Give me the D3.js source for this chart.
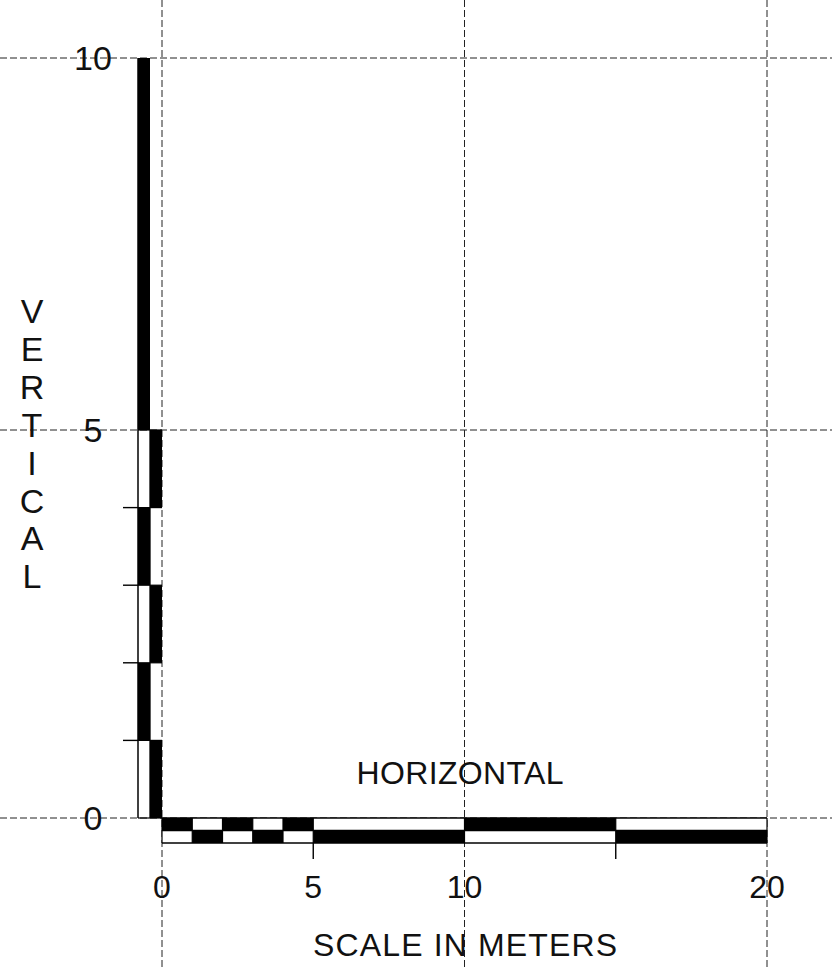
<!DOCTYPE html>
<html>
<head>
<meta charset="utf-8">
<script src="https://cdn.jsdelivr.net/npm/d3@7/dist/d3.min.js"></script>
<style>
  html, body { margin: 0; padding: 0; background: #fff; }
  svg { display: block; }
  text { font-family: "Liberation Sans", Arial, sans-serif; fill: #111; }
</style>
</head>
<body>
<svg id="chart" width="832" height="968"></svg>
<script>
// ---- data ----
const hBreaks = [0, 1, 2, 3, 4, 5, 10, 15, 20];       // horizontal scale segments (m)
const hTopBlack = [1, 0, 1, 0, 1, 0, 1, 0];           // 1 = top row black, else bottom row black
const vBreaks = [0, 1, 2, 3, 4, 5, 10];               // vertical scale segments (m)
const vInnerBlack = [1, 0, 1, 0, 1, 0];               // 1 = inner (right) column black, else outer
const xTickLabels = [0, 5, 10, 20];
const yTickLabels = [0, 5, 10];
const xMinorTicks = [5, 15];
const yMinorTicks = [1, 2, 3, 4];
const xGrid = [0, 10, 20];
const yGrid = [0, 5, 10];
const titleH = "HORIZONTAL";
const titleV = "VERTICAL";
const titleX = "SCALE IN METERS";

// ---- scales ----
const W = 832, H = 968;
const x = d3.scaleLinear().domain([0, 20]).range([162, 767]);
const y = d3.scaleLinear().domain([0, 5, 10]).range([818, 430, 58]);
const rowH = 12.5;      // thickness of each row of the scale bars
const colW = 12;

const svg = d3.select("#chart");

// ---- grid (dashed) ----
const grid = svg.append("g")
  .attr("stroke", "#222").attr("stroke-width", 1)
  .attr("stroke-dasharray", "7,3").attr("fill", "none");
grid.selectAll("line.v").data(xGrid).join("line").attr("class", "v")
  .attr("x1", d => x(d)).attr("x2", d => x(d)).attr("y1", 0).attr("y2", H);
grid.selectAll("line.h").data(yGrid).join("line").attr("class", "h")
  .attr("x1", 0).attr("x2", W).attr("y1", d => y(d)).attr("y2", d => y(d));

// ---- horizontal scale bar ----
const x0 = x(0);
const yTop = y(0);
const hSegs = hBreaks.slice(0, -1).map((a, i) => ({ a, b: hBreaks[i + 1], top: hTopBlack[i] }));
const hb = svg.append("g");
hb.append("rect").attr("x", x(0)).attr("y", yTop).attr("width", x(20) - x(0)).attr("height", rowH * 2)
  .attr("fill", "#fff");
hb.selectAll("rect.seg").data(hSegs).join("rect").attr("class", "seg")
  .attr("x", d => x(d.a)).attr("width", d => x(d.b) - x(d.a))
  .attr("y", d => d.top ? yTop : yTop + rowH).attr("height", rowH)
  .attr("fill", "#000");
hb.append("line").attr("x1", x(0)).attr("x2", x(20)).attr("y1", yTop + rowH).attr("y2", yTop + rowH)
  .attr("stroke", "#000").attr("stroke-width", 1.3);
hb.append("line").attr("x1", x(0)).attr("x2", x(20)).attr("y1", yTop + 2 * rowH).attr("y2", yTop + 2 * rowH)
  .attr("stroke", "#000").attr("stroke-width", 1.6);
hb.append("line").attr("x1", x(0)).attr("x2", x(20)).attr("y1", yTop).attr("y2", yTop)
  .attr("stroke", "#000").attr("stroke-width", 1.3);
hb.selectAll("line.vb").data(hBreaks).join("line").attr("class", "vb")
  .attr("x1", d => x(d)).attr("x2", d => x(d)).attr("y1", yTop).attr("y2", yTop + 2 * rowH)
  .attr("stroke", "#000").attr("stroke-width", 1.2);
hb.selectAll("line.mt").data(xMinorTicks).join("line").attr("class", "mt")
  .attr("x1", d => x(d)).attr("x2", d => x(d)).attr("y1", yTop + 2 * rowH).attr("y2", yTop + 2 * rowH + 16)
  .attr("stroke", "#000").attr("stroke-width", 1.4);

// ---- vertical scale bar ----
const vSegs = vBreaks.slice(0, -1).map((a, i) => ({ a, b: vBreaks[i + 1], inner: vInnerBlack[i] }));
const vb = svg.append("g");
vb.selectAll("rect.seg").data(vSegs).join("rect").attr("class", "seg")
  .attr("x", d => d.inner ? x0 - colW : x0 - 2 * colW).attr("width", colW)
  .attr("y", d => y(d.b)).attr("height", d => y(d.a) - y(d.b))
  .attr("fill", "#000");
vb.append("line").attr("x1", x0 - 2 * colW).attr("x2", x0 - 2 * colW).attr("y1", y(10)).attr("y2", y(0))
  .attr("stroke", "#000").attr("stroke-width", 1.5);
vb.append("line").attr("x1", x0 - colW).attr("x2", x0 - colW).attr("y1", y(5)).attr("y2", y(0))
  .attr("stroke", "#000").attr("stroke-width", 1.3);
vb.selectAll("line.hb").data(vBreaks.filter(d => d <= 5)).join("line").attr("class", "hb")
  .attr("x1", x0 - 2 * colW).attr("x2", x0).attr("y1", d => y(d)).attr("y2", d => y(d))
  .attr("stroke", "#000").attr("stroke-width", 1.2);
vb.selectAll("line.mt").data(yMinorTicks).join("line").attr("class", "mt")
  .attr("x1", x0 - 2 * colW - 15).attr("x2", x0 - 2 * colW).attr("y1", d => y(d)).attr("y2", d => y(d))
  .attr("stroke", "#000").attr("stroke-width", 1.4);

// ---- tick labels ----
svg.append("g").selectAll("text").data(xTickLabels).join("text")
  .attr("x", d => x(d)).attr("y", 898).attr("text-anchor", "middle")
  .attr("font-size", 32).text(d => d);
svg.append("g").selectAll("text").data(yTickLabels).join("text")
  .attr("x", 93).attr("y", d => y(d)).attr("dy", "0.36em").attr("text-anchor", "middle")
  .attr("font-size", 34).text(d => d);

// ---- titles ----
svg.append("text").attr("x", 460).attr("y", 784).attr("text-anchor", "middle")
  .attr("font-size", 32).attr("textLength", 207).text(titleH);
svg.append("text").attr("x", 465).attr("y", 956).attr("text-anchor", "middle")
  .attr("font-size", 32).attr("textLength", 304).text(titleX);
svg.append("g").selectAll("text").data(titleV.split("")).join("text")
  .attr("x", 32).attr("y", (d, i) => 323 + i * 37.9).attr("text-anchor", "middle")
  .attr("font-size", 34).text(d => d);
</script>
</body>
</html>
